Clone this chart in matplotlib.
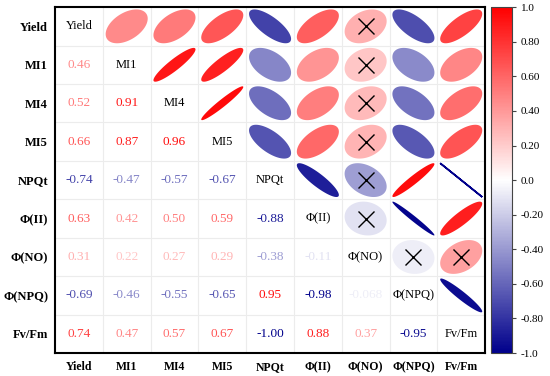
import numpy as np
import matplotlib.pyplot as plt
from matplotlib.colors import LinearSegmentedColormap, Normalize
from matplotlib.patches import Polygon
from matplotlib.colorbar import ColorbarBase

plt.rcParams['font.family'] = ['Liberation Serif', 'DejaVu Serif']

# ── Datos ────────────────────────────────────────────────────────────────
labels = ['Yield', 'MI1', 'MI4', 'MI5', 'NPQt', 'Φ(II)', 'Φ(NO)', 'Φ(NPQ)', 'Fv/Fm']

# triangulo inferior, fila por fila (fila i: correlaciones con columnas 0..i-1)
lower = [
    [],
    [0.46],
    [0.52, 0.91],
    [0.66, 0.87, 0.96],
    [-0.74, -0.47, -0.57, -0.67],
    [0.63, 0.42, 0.50, 0.59, -0.88],
    [0.31, 0.22, 0.27, 0.29, -0.38, -0.11],
    [-0.69, -0.46, -0.55, -0.65, 0.95, -0.98, -0.068],
    [0.74, 0.47, 0.57, 0.67, -1.00, 0.88, 0.37, -0.95],
]

# pares no significativos (marcados con X en el triangulo superior)
not_sig = [(0, 6), (1, 6), (2, 6), (3, 6), (4, 6), (5, 6), (6, 7), (6, 8)]

n = len(labels)
R = np.eye(n)
for i, row in enumerate(lower):
    for j, v in enumerate(row):
        R[i, j] = v
        R[j, i] = v

cmap = LinearSegmentedColormap.from_list('rb', ['#00008b', '#ffffff', '#ff0000'])
norm = Normalize(-1, 1)

# ── Gráfica ──────────────────────────────────────────────────────────────
fig = plt.figure(figsize=(5.5, 3.76), dpi=100)
ax = fig.add_axes([0.100, 0.061, 0.782, 0.920])
cax = fig.add_axes([0.893, 0.061, 0.038, 0.920])

ax.set_xlim(-0.5, n - 0.5)
ax.set_ylim(n - 0.5, -0.5)

# rejilla clara
for k in range(1, n):
    ax.axvline(k - 0.5, color='#ececec', lw=0.8, zorder=0)
    ax.axhline(k - 0.5, color='#ececec', lw=0.8, zorder=0)

t = np.linspace(0, 2 * np.pi, 120)
for i in range(n):
    for j in range(n):
        r = R[i, j]
        if i == j:
            ax.text(j, i, labels[i], ha='center', va='center', fontsize=9, color='black')
        elif i > j:
            txt = f'{r:.2g}' if abs(r) < 0.1 else f'{r:.2f}'
            ax.text(j, i, txt, ha='center', va='center', fontsize=9.5, color=cmap(norm(r)))
        else:
            d = np.arccos(np.clip(r, -1, 1))
            ex = 0.44 * np.cos(t + d / 2)
            ey = 0.44 * np.cos(t - d / 2)
            pts = np.column_stack([j + ex, i - ey])
            lw = 1.2 if abs(r) > 0.99 else 0
            ax.add_patch(Polygon(pts, closed=True, facecolor=cmap(norm(r)),
                                 edgecolor=cmap(norm(r)), lw=lw, zorder=2))
            if (i, j) in not_sig:
                ax.plot(j, i, marker='x', color='black', ms=12, mew=1.0, zorder=3)

ax.set_xticks(range(n))
ax.set_yticks(range(n))
ax.set_xticklabels(labels, fontsize=8.5, fontweight='bold')
ax.set_yticklabels(labels, fontsize=9, fontweight='bold')
ax.tick_params(axis='x', length=0, pad=6)
ax.tick_params(axis='y', length=0, pad=5)
for s in ax.spines.values():
    s.set_linewidth(1.5)

cb = ColorbarBase(cax, cmap=cmap, norm=norm)
ticks = [1.0, 0.8, 0.6, 0.4, 0.2, 0.0, -0.2, -0.4, -0.6, -0.8, -1.0]
cb.set_ticks(ticks)
cb.set_ticklabels(['1.0', '0.80', '0.60', '0.40', '0.20', '0.0',
                   '-0.20', '-0.40', '-0.60', '-0.80', '-1.0'])
cax.tick_params(labelsize=8, length=3, width=0.8, color='#444444')
cb.outline.set_edgecolor('#444444')

plt.savefig('out.png', dpi=100)
